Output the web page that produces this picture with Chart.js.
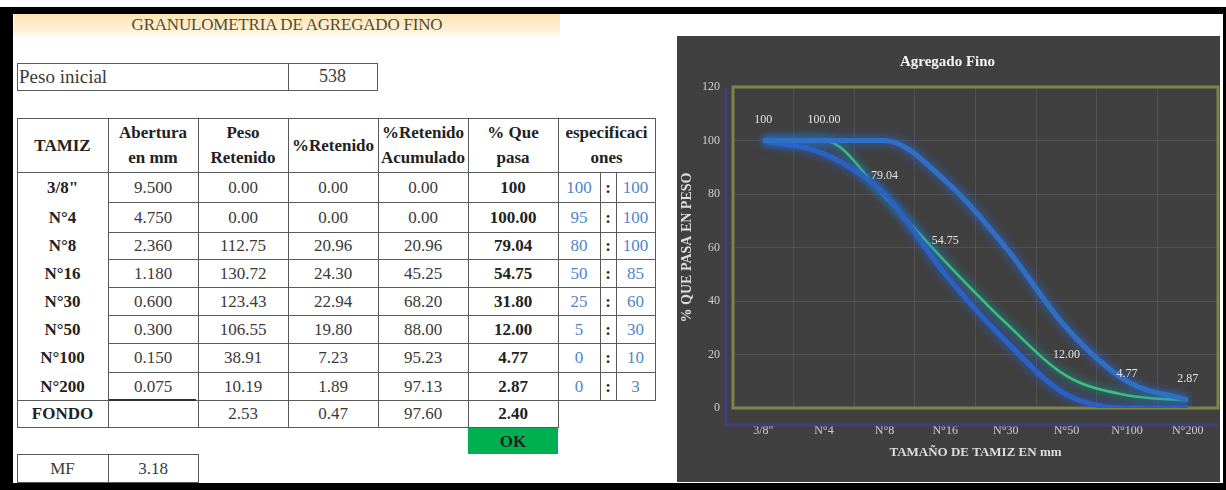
<!DOCTYPE html>
<html>
<head>
<meta charset="utf-8">
<script src="https://cdn.jsdelivr.net/npm/chart.js@4.4.1/dist/chart.umd.min.js"></script>
<style>
  html, body { margin: 0; padding: 0; background: #fff; }
  #page { position: relative; width: 1226px; height: 490px; overflow: hidden; background: #fff;
          font-family: 'Liberation Serif', 'Times New Roman', serif; }
  .blk { position: absolute; background: #000; }
  .ln { position: absolute; background: #5a5a5a; }
  .tx { position: absolute; display: flex; align-items: center; justify-content: center; text-align: center;
        white-space: nowrap; color: #3a3a3a; font-size: 17px; line-height: 25px; }
  .b { font-weight: bold; color: #222; }
  .azul { color: #4f86c6; }
  #banda { position: absolute; left: 14px; top: 14px; width: 546px; height: 22px;
           background: linear-gradient(to bottom, #fde4b4, #fff3da 80%, #fffaf0);
           display: flex; align-items: center; justify-content: center;
           font-size: 17px; color: #544b30; letter-spacing: -0.2px; }
  #panel { position: absolute; left: 677px; top: 36px; width: 543px; height: 446px; background: #404040; }
  #panel canvas { display: block; }
</style>
</head>
<body>
<div id="page">
  <div id="banda">GRANULOMETRIA DE AGREGADO FINO</div>
  <div id="panel"><canvas id="grafico" width="543" height="446"></canvas></div>
</div>
<script>
// Tamices y resultados del ensayo
const tamices = ['3/8"', 'N°4', 'N°8', 'N°16', 'N°30', 'N°50', 'N°100', 'N°200'];
const abertura = ['9.500', '4.750', '2.360', '1.180', '0.600', '0.300', '0.150', '0.075'];
const pesoRetenido = [0.00, 0.00, 112.75, 130.72, 123.43, 106.55, 38.91, 10.19];
const pctRetenido = [0.00, 0.00, 20.96, 24.30, 22.94, 19.80, 7.23, 1.89];
const pctAcumulado = [0.00, 0.00, 20.96, 45.25, 68.20, 88.00, 95.23, 97.13];
const pasaTexto = ['100', '100.00', '79.04', '54.75', '31.80', '12.00', '4.77', '2.87'];
const pctPasa = pasaTexto.map(Number);
const specMin = [100, 95, 80, 50, 25, 5, 0, 0];
const specMax = [100, 100, 100, 85, 60, 30, 10, 3];
const fondo = ['FONDO', '', '2.53', '0.47', '97.60', '2.40'];
const pesoInicial = '538';
const moduloFinura = '3.18';
const encabezados = ['TAMIZ', 'Abertura<br>en mm', 'Peso<br>Retenido', '%Retenido', '%Retenido<br>Acumulado', '% Que<br>pasa'];
// puntos de la curva que llevan rótulo de valor
const conRotulo = [0, 1, 2, 3, 5, 6, 7];

// ---------- tabla ----------
const page = document.getElementById('page');
function add(cls, x, y, w, h, html) {
  const d = document.createElement('div');
  d.className = cls;
  Object.assign(d.style, { left: x + 'px', top: y + 'px', width: w + 'px', height: h + 'px' });
  if (html != null) d.innerHTML = html;
  page.appendChild(d);
  return d;
}
const hl = (x1, x2, y) => add('ln', x1, y, x2 - x1 + 1, 1);
const vl = (x, y1, y2) => add('ln', x, y1, 1, y2 - y1 + 1);

// marco negro
add('blk', 0, 7, 1226, 7);
add('blk', 0, 7, 13, 483);
add('blk', 0, 483, 1226, 7);
add('blk', 1223, 7, 3, 483);

// peso inicial
hl(17, 377, 63); hl(17, 377, 90); vl(17, 63, 90); vl(288, 63, 90); vl(377, 63, 90);
const pi = add('tx', 19, 63, 260, 27, 'Peso inicial'); pi.style.justifyContent = 'flex-start'; pi.style.fontSize = '19px';
add('tx', 288, 63, 89, 27, pesoInicial).style.fontSize = '18px';

const colX = [17, 108, 198, 288, 378, 468, 558, 600, 616, 655];
const yHead = 118, yData = 172;
const altos = [30, 30, 27, 28, 28, 28, 29, 28, 27];
const filaY = [yData];
altos.forEach(h => filaY.push(filaY[filaY.length - 1] + h));

// encabezados
encabezados.forEach((t, i) => add('tx b', colX[i], yHead, colX[i + 1] - colX[i], yData - yHead, t));
add('tx b', colX[6], yHead, colX[9] - colX[6], yData - yHead, 'especificaci<br>ones');

// filas de tamices
tamices.forEach((t, r) => {
  const y = filaY[r], h = filaY[r + 1] - y;
  const celdas = [t, abertura[r], pesoRetenido[r].toFixed(2), pctRetenido[r].toFixed(2),
                  pctAcumulado[r].toFixed(2), pasaTexto[r]];
  celdas.forEach((v, c) => {
    const bold = (c === 0 || c === 5) ? ' b' : '';
    add('tx' + bold, colX[c], y, colX[c + 1] - colX[c], h, v);
  });
  add('tx azul', colX[6], y, colX[7] - colX[6], h, specMin[r]);
  add('tx b', colX[7], y, colX[8] - colX[7], h, ':');
  add('tx azul', colX[8], y, colX[9] - colX[8], h, specMax[r]);
});
// fila fondo
{
  const y = filaY[8], h = filaY[9] - y;
  fondo.forEach((v, c) => {
    const bold = (c === 0 || c === 5) ? ' b' : '';
    add('tx' + bold, colX[c], y, colX[c + 1] - colX[c], h, v);
  });
}
// líneas de la tabla
hl(17, 655, yHead); hl(17, 655, yData);
for (let r = 1; r < 8; r++) hl(108, 655, filaY[r]);
hl(17, 655, filaY[8]);
hl(17, 558, filaY[9]);
add('ln', 108, filaY[8] - 1, 88, 2).style.background = '#333';
[17, 108, 198, 288, 378, 468, 558].forEach(x => vl(x, yHead, filaY[9]));
vl(655, yHead, filaY[8]);
vl(600, yData, filaY[8]); vl(616, yData, filaY[8]);

// verificación
const ok = add('tx b', 468, 428, 90, 26, 'OK');
ok.style.background = '#00b050';

// módulo de finura
hl(17, 198, 454); hl(17, 198, 482); vl(17, 454, 482); vl(108, 454, 482); vl(198, 454, 482);
add('tx', 17, 454, 91, 28, 'MF');
add('tx', 108, 454, 90, 28, moduloFinura);

// ---------- gráfico ----------
const fuente = 'Liberation Serif';
const brillo = {
  id: 'brillo',
  beforeDatasetDraw(chart, args) {
    const ds = chart.data.datasets[args.index];
    chart.ctx.save();
    chart.ctx.shadowColor = ds.glowColor;
    chart.ctx.shadowBlur = ds.glowBlur;
  },
  afterDatasetDraw(chart) { chart.ctx.restore(); }
};
const marco = {
  id: 'marco',
  beforeDatasetsDraw(chart) {
    const { ctx, chartArea: a } = chart;
    ctx.save();
    ctx.strokeStyle = 'rgba(62,62,150,0.75)';
    ctx.lineWidth = 3;
    ctx.beginPath();
    ctx.moveTo(a.left - 7, a.top);
    ctx.lineTo(a.left - 7, a.bottom + 17);
    ctx.lineTo(a.right, a.bottom + 17);
    ctx.stroke();
    ctx.strokeStyle = '#7e8446';
    ctx.lineWidth = 3;
    ctx.strokeRect(a.left, a.top, a.right - a.left, a.bottom - a.top);
    ctx.restore();
  }
};
const rotulos = {
  id: 'rotulos',
  afterDatasetsDraw(chart) {
    const { ctx } = chart;
    const meta = chart.getDatasetMeta(2);
    ctx.save();
    ctx.font = '12px "' + fuente + '"';
    ctx.fillStyle = '#e2e2e2';
    ctx.textAlign = 'center';
    ctx.textBaseline = 'middle';
    conRotulo.forEach(i => {
      const p = meta.data[i];
      ctx.fillText(pasaTexto[i], p.x, p.y - 21);
    });
    ctx.restore();
  }
};

new Chart(document.getElementById('grafico'), {
  type: 'line',
  data: {
    labels: tamices,
    datasets: [
      { label: 'Límite superior', data: specMax, borderColor: '#2f70c6', borderWidth: 5,
        glowColor: 'rgba(40,110,235,0.9)', glowBlur: 10, cubicInterpolationMode: 'monotone', pointRadius: 0 },
      { label: 'Límite inferior', data: specMin, borderColor: '#2a62c4', borderWidth: 5,
        glowColor: 'rgba(40,100,235,0.9)', glowBlur: 10, cubicInterpolationMode: 'monotone', pointRadius: 0 },
      { label: '% Que pasa', data: pctPasa, borderColor: '#3cc27a', borderWidth: 2.5,
        glowColor: 'rgba(0,190,215,1)', glowBlur: 8, cubicInterpolationMode: 'monotone', pointRadius: 0 }
    ]
  },
  options: {
    responsive: false,
    animation: false,
    devicePixelRatio: 1,
    layout: { padding: { left: 0, right: 2, top: 0, bottom: 0 } },
    plugins: {
      legend: { display: false },
      tooltip: { enabled: false },
      title: {
        display: true, text: 'Agregado Fino', color: '#f2f2f2',
        font: { family: fuente, size: 15, weight: 'bold' },
        padding: { top: 17, bottom: 16 }
      }
    },
    scales: {
      x: {
        offset: true,
        grid: { offset: true, color: 'rgba(255,255,255,0.09)', drawTicks: false },
        border: { display: false },
        ticks: { color: '#cfcfcf', font: { family: fuente, size: 12 }, padding: 16, maxRotation: 0 },
        title: { display: true, text: 'TAMAÑO DE TAMIZ EN mm', color: '#dedede',
                 font: { family: fuente, size: 13, weight: 'bold' }, padding: { top: 0, bottom: 22 } },
        afterFit: s => { s.height = 74; }
      },
      y: {
        min: 0, max: 120,
        grid: { color: 'rgba(255,255,255,0.09)', drawTicks: false },
        border: { display: false },
        ticks: { stepSize: 20, color: '#cfcfcf', font: { family: fuente, size: 12 }, padding: 13 },
        title: { display: true, text: '% QUE PASA EN PESO', color: '#dedede',
                 font: { family: fuente, size: 14, weight: 'bold' }, padding: { top: 2, bottom: 0 } },
        afterFit: s => { s.width = 56; }
      }
    }
  },
  plugins: [brillo, marco, rotulos]
});
</script>
</body>
</html>
